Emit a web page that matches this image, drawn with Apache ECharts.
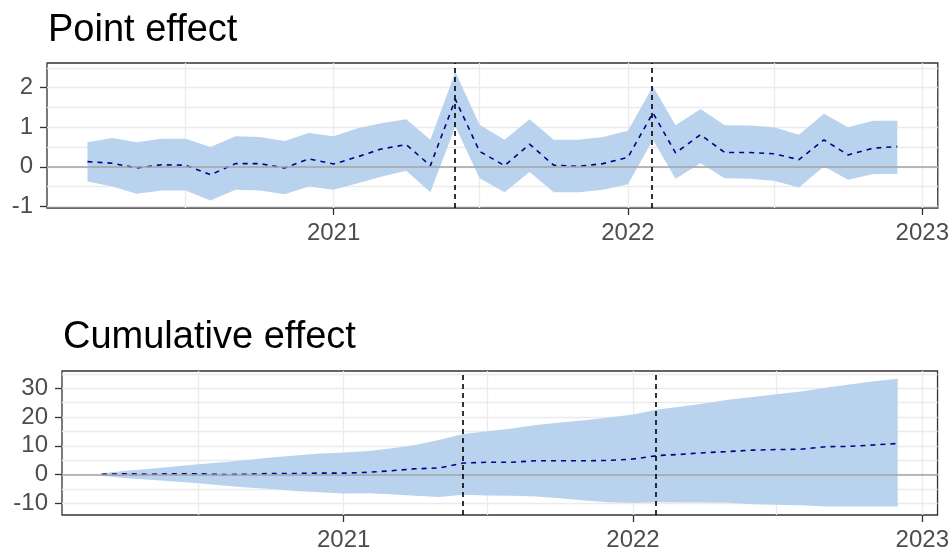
<!DOCTYPE html>
<html>
<head>
<meta charset="utf-8">
<script src="https://cdn.jsdelivr.net/npm/echarts@6/dist/echarts.min.js"></script>
<style>
html, body { margin: 0; padding: 0; background: #fff; }
#chart { width: 952px; height: 553px; }
</style>
</head>
<body>
<div id="chart"></div>
<script>
// monthly observations, 2020-03 .. 2022-12
const months = ['2020-03','2020-04','2020-05','2020-06','2020-07','2020-08','2020-09','2020-10','2020-11','2020-12',
  '2021-01','2021-02','2021-03','2021-04','2021-05','2021-06','2021-07','2021-08','2021-09','2021-10','2021-11','2021-12',
  '2022-01','2022-02','2022-03','2022-04','2022-05','2022-06','2022-07','2022-08','2022-09','2022-10','2022-11','2022-12'];

const pointMean  = [0.13, 0.09, -0.03, 0.05, 0.04, -0.20, 0.08, 0.08, -0.03, 0.20, 0.07, 0.26, 0.45, 0.56, 0.03, 1.70, 0.39,
  0.03, 0.57, 0.04, 0.01, 0.08, 0.24, 1.36, 0.35, 0.81, 0.36, 0.36, 0.33, 0.18, 0.68, 0.30, 0.47, 0.51];
const pointUpper = [0.62, 0.73, 0.62, 0.71, 0.71, 0.50, 0.77, 0.75, 0.65, 0.85, 0.77, 0.98, 1.10, 1.20, 0.68, 2.39, 1.06,
  0.68, 1.20, 0.68, 0.68, 0.75, 0.91, 2.03, 1.05, 1.46, 1.05, 1.04, 1.00, 0.81, 1.34, 1.00, 1.16, 1.16];
const pointLower = [-0.37, -0.50, -0.68, -0.60, -0.60, -0.85, -0.58, -0.60, -0.69, -0.50, -0.58, -0.41, -0.25, -0.10, -0.64, 1.02, -0.29,
  -0.64, -0.13, -0.64, -0.64, -0.58, -0.44, 0.68, -0.30, 0.09, -0.29, -0.30, -0.35, -0.52, 0.01, -0.33, -0.18, -0.18];

const cumMean  = [0.1, 0.3, 0.1, 0.3, 0.3, 0.0, 0.1, 0.4, 0.4, 0.5, 0.5, 0.8, 1.3, 2.0, 2.3, 4.0, 4.3,
  4.3, 4.8, 4.8, 4.8, 4.9, 5.4, 6.6, 7.0, 7.6, 8.0, 8.5, 8.7, 8.8, 9.7, 9.8, 10.3, 10.8];
const cumUpper = [0.5, 1.3, 2.0, 2.8, 3.6, 4.3, 5.1, 5.9, 6.6, 7.3, 7.7, 8.2, 9.1, 10.3, 12.0, 14.1, 15.1,
  16.0, 17.2, 18.1, 18.9, 19.8, 20.9, 22.6, 23.6, 24.7, 26.0, 27.0, 27.9, 28.9, 30.2, 31.3, 32.4, 33.3];
const cumLower = [-0.4, -1.3, -1.8, -2.4, -3.0, -3.8, -4.5, -5.0, -5.7, -6.1, -6.6, -6.5, -6.8, -7.4, -7.8, -7.0, -7.3,
  -7.4, -7.6, -8.2, -9.0, -9.6, -9.9, -9.6, -9.7, -9.7, -9.8, -10.3, -10.5, -10.7, -11.1, -11.1, -11.1, -11.1];

const eventMonths = ['2021-06', '2022-02'];
const yearTicks = ['2021-01', '2022-01', '2023-01'];
const xGrid = ['2020-07', '2021-01', '2021-07', '2022-01', '2022-07', '2023-01'];
const pointTicks = [-1, 0, 1, 2];
const pointGrid = [-1, -0.5, 0, 0.5, 1, 1.5, 2, 2.5];
const cumTicks = [-10, 0, 10, 20, 30];
const cumGrid = [-10, -5, 0, 5, 10, 15, 20, 25, 30, 35];

// month string -> fractional year
function fy(s) {
  const y = +s.slice(0, 4), m = +s.slice(5, 7);
  const t0 = Date.UTC(y, 0, 1), t1 = Date.UTC(y + 1, 0, 1);
  return y + (Date.UTC(y, m - 1, 1) - t0) / (t1 - t0);
}
const xs = months.map(fy);
const pad = (xs[xs.length - 1] - xs[0]) * 0.05;
const xMin = xs[0] - pad, xMax = xs[xs.length - 1] + pad;

const FONT = 'Liberation Sans';
const BAND = '#B9D3EE';

function xAxes(grid) {
  return [{
    type: 'value', gridIndex: grid, min: xMin, max: xMax, position: 'bottom',
    axisLine: { show: false, onZero: false },
    axisTick: { show: true, length: 7, customValues: yearTicks.map(fy), lineStyle: { color: '#333', width: 1.3 } },
    axisLabel: { customValues: yearTicks.map(fy), margin: 13, fontFamily: FONT, fontSize: 24, color: '#4d4d4d',
      formatter: v => String(Math.round(v)) },
    splitLine: { show: false }
  }, {
    type: 'value', gridIndex: grid, min: xMin, max: xMax, position: 'top',
    axisLine: { show: false, onZero: false }, axisLabel: { show: false },
    axisTick: { show: false, customValues: xGrid.map(fy) },
    splitLine: { show: true, lineStyle: { color: '#ebebeb', width: 1.3 } }
  }];
}
function yAxes(grid, min, max, ticks, gridVals) {
  return [{
    type: 'value', gridIndex: grid, min: min, max: max, position: 'left',
    axisLine: { show: false, onZero: false },
    axisTick: { show: true, length: 7, customValues: ticks, lineStyle: { color: '#333', width: 1.3 } },
    axisLabel: { customValues: ticks, margin: 14, fontFamily: FONT, fontSize: 24, color: '#4d4d4d' },
    splitLine: { show: false }
  }, {
    type: 'value', gridIndex: grid, min: min, max: max, position: 'right',
    axisLine: { show: false, onZero: false }, axisLabel: { show: false },
    axisTick: { show: false, customValues: gridVals },
    splitLine: { show: true, lineStyle: { color: '#ebebeb', width: 1.3 } }
  }];
}

// ribbon drawn as one polygon through the axis scales
function ribbon(params, api) {
  if (params.dataIndexInside !== 0) return null;
  const n = params.dataInsideLength;
  const top = [], bottom = [];
  for (let i = 0; i < n; i++) {
    top.push(api.coord([api.value(0, i), api.value(2, i)]));
    bottom.push(api.coord([api.value(0, i), api.value(1, i)]));
  }
  return {
    type: 'polygon',
    shape: { points: top.concat(bottom.reverse()) },
    style: { fill: BAND, stroke: null }
  };
}

function panelSeries(axis, mean, upper, lower) {
  const ax = { xAxisIndex: axis, yAxisIndex: axis };
  return [
    Object.assign({ type: 'custom', renderItem: ribbon, silent: true,
      data: xs.map((x, i) => [x, lower[i], upper[i]]), encode: { x: 0, y: [1, 2] } }, ax),
    Object.assign({ type: 'line', data: [], symbol: 'none', silent: true, z: 3,
      markLine: { symbol: ['none', 'none'], silent: true, label: { show: false }, animation: false,
        data: [
          { yAxis: 0, lineStyle: { color: '#a3a3a3', width: 1.6, type: 'solid' } }
        ].concat(eventMonths.map(m => ({ xAxis: fy(m), lineStyle: { color: '#000', width: 1.6, type: [5, 4] } })))
      } }, ax),
    Object.assign({ type: 'line', data: xs.map((x, i) => [x, mean[i]]), symbol: 'none', silent: true, z: 4,
      lineStyle: { color: '#00008B', width: 1.6, type: [5, 5] } }, ax)
  ];
}

const chart = echarts.init(document.getElementById('chart'));
chart.setOption({
  animation: false,
  backgroundColor: '#fff',
  title: [
    { text: 'Point effect', left: 43, top: 7, textStyle: { fontFamily: FONT, fontSize: 38, fontWeight: 'normal', color: '#000' } },
    { text: 'Cumulative effect', left: 58, top: 314, textStyle: { fontFamily: FONT, fontSize: 38, fontWeight: 'normal', color: '#000' } }
  ],
  grid: [
    { left: 47, right: 14, top: 63, height: 145, show: true, borderColor: '#333', borderWidth: 1.3, backgroundColor: 'transparent' },
    { left: 62, right: 14, top: 371, height: 144, show: true, borderColor: '#333', borderWidth: 1.3, backgroundColor: 'transparent' }
  ],
  xAxis: xAxes(0).concat(xAxes(1)),
  yAxis: yAxes(0, -1.04, 2.62, pointTicks, pointGrid).concat(yAxes(1, -14.05, 36, cumTicks, cumGrid)),
  series: panelSeries(0, pointMean, pointUpper, pointLower)
    .concat(panelSeries(2, cumMean, cumUpper, cumLower))
});
</script>
</body>
</html>
